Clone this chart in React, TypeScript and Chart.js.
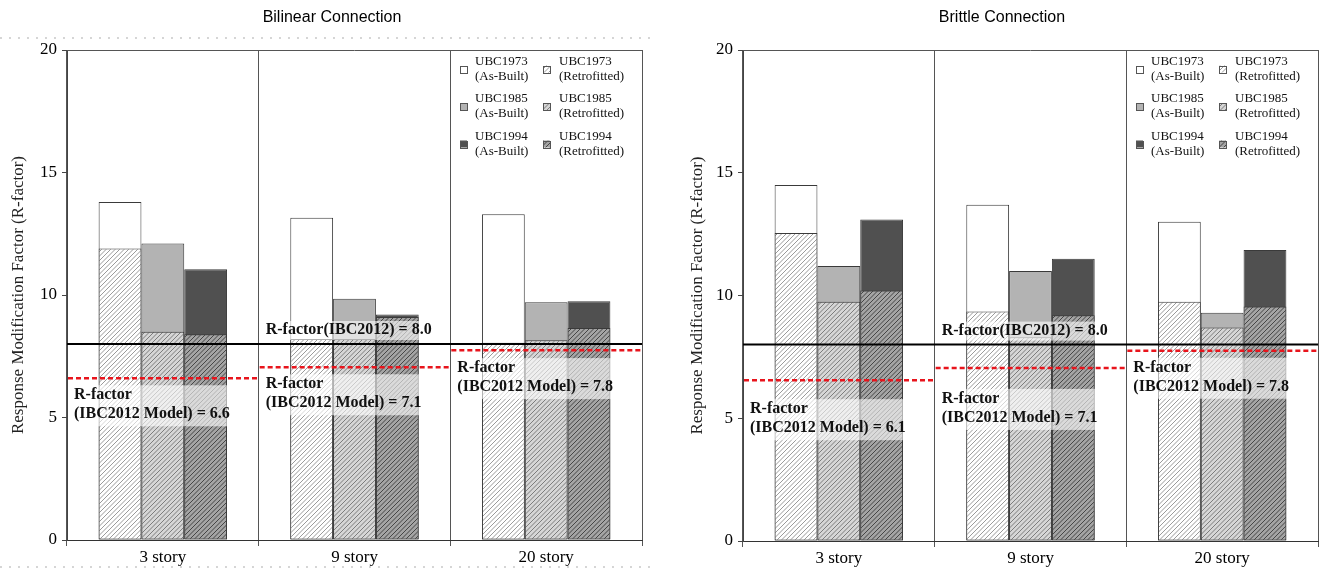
import React, { useEffect, useRef } from 'react';
import { Chart, registerables } from 'chart.js';

Chart.register(...registerables);

// ---------- data ----------
const categories = ['3 story', '9 story', '20 story'];
const yTicks = [0, 5, 10, 15, 20];
const ibc2012R = 8.0;

// Bilinear connection
const bilinearAsBuilt1973 = [13.8, 13.15, 13.3];
const bilinearAsBuilt1985 = [12.1, 9.85, 9.7];
const bilinearAsBuilt1994 = [11.05, 9.2, 9.75];
const bilinearRetro1973 = [11.9, 8.2, 8.05];
const bilinearRetro1985 = [8.5, 8.2, 8.15];
const bilinearRetro1994 = [8.4, 9.1, 8.65];
const bilinearModelLine = [6.6, 7.05, 7.75];
const bilinearModelText = ['6.6', '7.1', '7.8'];

// Brittle connection
const brittleAsBuilt1973 = [14.5, 13.7, 13.0];
const brittleAsBuilt1985 = [11.2, 11.0, 9.3];
const brittleAsBuilt1994 = [13.1, 11.5, 11.85];
const brittleRetro1973 = [12.55, 9.35, 9.75];
const brittleRetro1985 = [9.75, 8.3, 8.7];
const brittleRetro1994 = [10.2, 9.2, 9.55];
const brittleModelLine = [6.55, 7.05, 7.75];
const brittleModelText = ['6.1', '7.1', '7.8'];

const legendCodes = ['UBC1973', 'UBC1985', 'UBC1994'];

// ---------- styles ----------
const SERIF = "'Liberation Serif', 'Times New Roman', serif";
const SANS = "'Liberation Sans', Arial, sans-serif";
const asBuiltColors = ['#ffffff', '#b3b3b3', '#505050'];
const hatchBg = ['#ffffff', '#d6d6d6', '#a4a4a4'];
const hatchFg = ['#9a9a9a', '#7c7c7c', '#454545'];
const barBorder = '#3a3a3a';

function makeHatch(ctx: CanvasRenderingContext2D, bg: string, fg: string) {
  const s = 9;
  const c = document.createElement('canvas');
  c.width = s;
  c.height = s;
  const g = c.getContext('2d')!;
  g.fillStyle = bg;
  g.fillRect(0, 0, s, s);
  g.strokeStyle = fg;
  g.lineWidth = 1;
  g.beginPath();
  for (let k = -9; k <= 18; k += 4.5) {
    g.moveTo(k - 10, 10);
    g.lineTo(k + 1, -1);
  }
  g.stroke();
  return ctx.createPattern(c, 'repeat') as CanvasPattern;
}

type Spec = {
  title: string;
  titleX: number;
  asBuilt: number[][];
  retro: number[][];
  modelLine: number[];
  modelText: string[];
  modelOffsets: number[];
  yAxisWidth: number;
  padRight: number;
  xAxisHeight: number;
  yTitlePad: number;
  dottedRows: number[];
};

function buildChart(canvas: HTMLCanvasElement, spec: Spec) {
  const ctx = canvas.getContext('2d')!;
  const hatches = [0, 1, 2].map((i) => makeHatch(ctx, hatchBg[i], hatchFg[i]));
  const stacks = ['s1973', 's1985', 's1994'];
  const common = {
    borderColor: barBorder,
    borderWidth: 1,
    borderSkipped: false,
    categoryPercentage: 0.67,
    barPercentage: 1.0,
  };
  const datasets: any[] = [];
  for (let i = 0; i < 3; i++) {
    datasets.push({
      ...common,
      label: legendCodes[i] + ' (Retrofitted)',
      data: spec.retro[i],
      backgroundColor: hatches[i],
      stack: stacks[i],
      order: 1,
    });
  }
  for (let i = 0; i < 3; i++) {
    datasets.push({
      ...common,
      label: legendCodes[i] + ' (As-Built)',
      data: spec.asBuilt[i],
      backgroundColor: asBuiltColors[i],
      stack: stacks[i],
      order: 2,
    });
  }

  const overlay = {
    id: 'overlay',
    afterDatasetsDraw(chart: any) {
      const c = chart.ctx as CanvasRenderingContext2D;
      const area = chart.chartArea;
      const xs = chart.scales.x;
      const ys = chart.scales.y;
      const catW = (area.right - area.left) / categories.length;
      const catLeft = (i: number) => xs.getPixelForValue(i) - catW / 2;
      c.save();
      // top border
      c.strokeStyle = '#555';
      c.lineWidth = 1;
      c.beginPath();
      c.moveTo(area.left, Math.round(area.top) + 0.5);
      c.lineTo(area.right, Math.round(area.top) + 0.5);
      c.stroke();
      // IBC2012 line
      const y8 = ys.getPixelForValue(ibc2012R);
      c.strokeStyle = '#000';
      c.lineWidth = 2;
      c.beginPath();
      c.moveTo(area.left, y8);
      c.lineTo(area.right, y8);
      c.stroke();
      // model lines
      c.strokeStyle = '#e8141c';
      c.lineWidth = 2.5;
      c.setLineDash([5, 3]);
      spec.modelLine.forEach((v, i) => {
        const y = ys.getPixelForValue(v);
        c.beginPath();
        c.moveTo(catLeft(i) + 1, y);
        c.lineTo(catLeft(i) + catW - 1, y);
        c.stroke();
      });
      c.setLineDash([]);
      // labels with translucent boxes
      c.font = `bold 16px ${SERIF}`;
      c.textBaseline = 'middle';
      c.textAlign = 'left';
      const ibcText = `R-factor(IBC2012) = ${ibc2012R.toFixed(1)}`;
      const ix = catLeft(1) + 7;
      const iy = y8 - 14;
      const iw = c.measureText(ibcText).width;
      c.fillStyle = 'rgba(255,255,255,0.6)';
      c.fillRect(ix - 4, iy - 9, iw + 8, 19);
      spec.modelLine.forEach((v, i) => {
        const x = catLeft(i) + 7;
        const y1 = ys.getPixelForValue(v) + spec.modelOffsets[i];
        const y2 = y1 + 19;
        const l2 = `(IBC2012 Model) = ${spec.modelText[i]}`;
        const w = Math.max(c.measureText('R-factor').width, c.measureText(l2).width);
        c.fillStyle = 'rgba(255,255,255,0.6)';
        c.fillRect(x - 5, y1 - 10, w + 9, y2 - y1 + 22);
      });
      c.fillStyle = '#111';
      c.fillText(ibcText, ix, iy);
      spec.modelLine.forEach((v, i) => {
        const x = catLeft(i) + 7;
        const y1 = ys.getPixelForValue(v) + spec.modelOffsets[i];
        c.fillText('R-factor', x, y1);
        c.fillText(`(IBC2012 Model) = ${spec.modelText[i]}`, x, y1 + 19);
      });
      c.restore();
    },
    afterDraw(chart: any) {
      const c = chart.ctx as CanvasRenderingContext2D;
      const area = chart.chartArea;
      c.save();
      // faint dotted rows (scan artefacts of the original figure)
      c.strokeStyle = '#c8c8c8';
      c.lineWidth = 1.5;
      c.setLineDash([2, 7]);
      spec.dottedRows.forEach((y) => {
        c.beginPath();
        c.moveTo(0, y);
        c.lineTo(area.right + 14, y);
        c.stroke();
      });
      c.setLineDash([]);
      // chart title
      c.font = `16px ${SANS}`;
      c.fillStyle = '#000';
      c.textAlign = 'center';
      c.textBaseline = 'middle';
      c.fillText(spec.title, spec.titleX, 18);
      // legend (2 columns x 3 rows)
      const rowY = [19, 56.5, 94];
      const cols = [
        { sq: -182, tx: -167 },
        { sq: -99, tx: -83 },
      ];
      c.font = `13px ${SERIF}`;
      c.textAlign = 'left';
      for (let r = 0; r < 3; r++) {
        for (let k = 0; k < 2; k++) {
          const cy = area.top + rowY[r];
          const sx = area.right + cols[k].sq;
          c.fillStyle = k === 0 ? asBuiltColors[r] : (hatches[r] as any);
          c.fillRect(sx, cy - 3.5, 7, 7);
          c.strokeStyle = '#555';
          c.lineWidth = 1;
          c.strokeRect(Math.round(sx) + 0.5, Math.round(cy - 3.5) + 0.5, 7, 7);
          c.fillStyle = '#111';
          c.fillText(legendCodes[r], area.right + cols[k].tx, cy - 7.5);
          c.fillText(k === 0 ? '(As-Built)' : '(Retrofitted)', area.right + cols[k].tx, cy + 7.5);
        }
      }
      c.restore();
    },
  };

  return new Chart(ctx, {
    type: 'bar',
    data: { labels: categories, datasets },
    plugins: [overlay],
    options: {
      animation: false,
      responsive: false,
      maintainAspectRatio: false,
      layout: { padding: { left: 0, right: spec.padRight, top: 50, bottom: 0 } },
      plugins: {
        legend: { display: false },
        title: { display: false },
        tooltip: { enabled: false },
      },
      scales: {
        x: {
          type: 'category',
          offset: true,
          grid: {
            offset: true,
            drawOnChartArea: true,
            color: '#555',
            lineWidth: 1,
            tickLength: 6,
          },
          border: { color: '#333', width: 1 },
          ticks: { font: { family: SERIF, size: 17 }, color: '#000', padding: 1 },
          afterFit: (s: any) => {
            s.height = spec.xAxisHeight;
          },
        },
        y: {
          min: 0,
          max: 20,
          stacked: false,
          afterBuildTicks: (s: any) => {
            s.ticks = yTicks.map((v) => ({ value: v }));
          },
          ticks: { font: { family: SERIF, size: 17 }, color: '#000', padding: 5 },
          grid: { drawOnChartArea: false, drawTicks: true, tickLength: 5, color: '#444' },
          border: { color: '#444', width: 1 },
          title: {
            display: true,
            text: 'Response Modification Factor (R-factor)',
            font: { family: SERIF, size: 17 },
            color: '#222',
            padding: { top: spec.yTitlePad, bottom: 0 },
          },
          afterFit: (s: any) => {
            s.width = spec.yAxisWidth;
          },
        },
      } as any,
    } as any,
  });
}

function ChartCanvas({ spec, width, height, left }: { spec: Spec; width: number; height: number; left: number }) {
  const ref = useRef<HTMLCanvasElement | null>(null);
  useEffect(() => {
    if (!ref.current) return;
    const chart = buildChart(ref.current, spec);
    return () => chart.destroy();
  }, []);
  return (
    <canvas
      ref={ref}
      width={width}
      height={height}
      style={{ position: 'absolute', left, top: 0, width, height }}
    />
  );
}

const bilinearSpec: Spec = {
  title: 'Bilinear Connection',
  titleX: 332,
  asBuilt: [bilinearAsBuilt1973, bilinearAsBuilt1985, bilinearAsBuilt1994],
  retro: [bilinearRetro1973, bilinearRetro1985, bilinearRetro1994],
  modelLine: bilinearModelLine,
  modelText: bilinearModelText,
  modelOffsets: [17, 17, 18],
  yAxisWidth: 67,
  padRight: 18,
  xAxisHeight: 32,
  yTitlePad: 8,
  dottedRows: [38, 567],
};

const brittleSpec: Spec = {
  title: 'Brittle Connection',
  titleX: 342,
  asBuilt: [brittleAsBuilt1973, brittleAsBuilt1985, brittleAsBuilt1994],
  retro: [brittleRetro1973, brittleRetro1985, brittleRetro1994],
  modelLine: brittleModelLine,
  modelText: brittleModelText,
  modelOffsets: [29, 31, 17],
  yAxisWidth: 83,
  padRight: 9,
  xAxisHeight: 31,
  yTitlePad: 27,
  dottedRows: [],
};

export default function App() {
  return (
    <div style={{ position: 'absolute', left: 0, top: 0, width: 1327, height: 572, background: '#fff' }}>
      <ChartCanvas spec={bilinearSpec} width={660} height={572} left={0} />
      <ChartCanvas spec={brittleSpec} width={667} height={572} left={660} />
    </div>
  );
}
